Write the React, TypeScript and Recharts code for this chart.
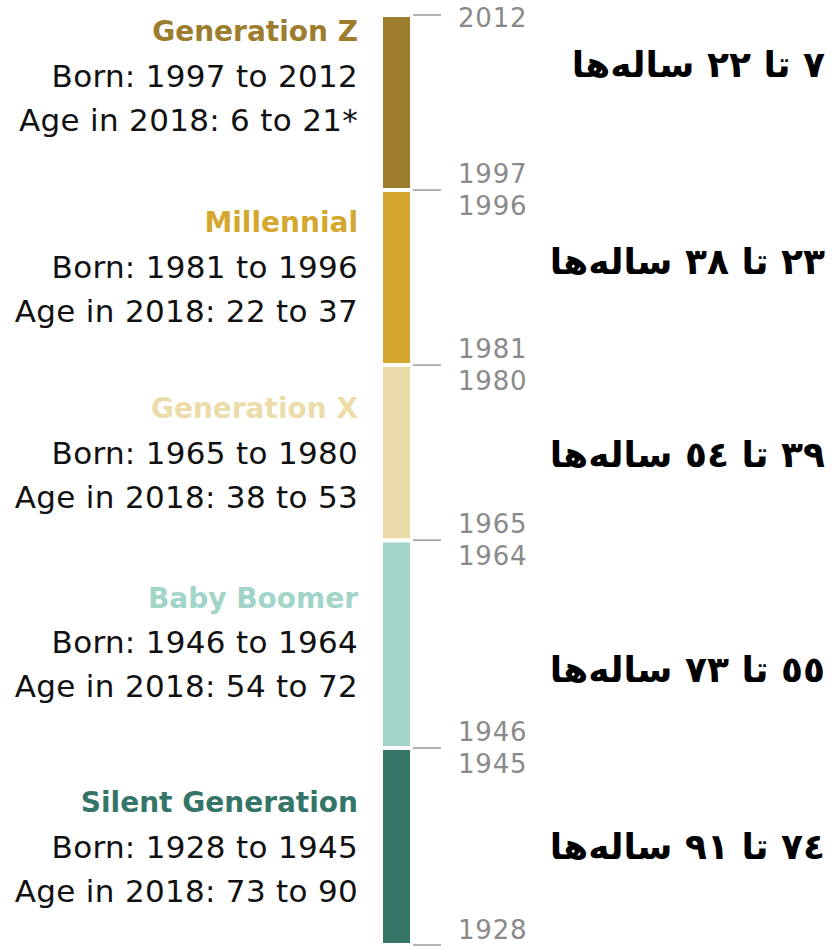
import { BarChart, Bar, XAxis, YAxis, LabelList } from 'recharts'

// ── Data (top of the column first) ────────────────────────────────────────────

const generations = ['Generation Z', 'Millennial', 'Generation X', 'Baby Boomer', 'Silent Generation']
const bornFirst = [1997, 1981, 1965, 1946, 1928]
const bornLast = [2012, 1996, 1980, 1964, 1945]
const ageFirst = [6, 22, 38, 54, 73]
const ageLast = [21, 37, 53, 72, 90]
const ageNote = ['*', '', '', '', '']
const persianAges = [
  '٧ تا ٢٢ ساله\u200cها',
  '٢٣ تا ٣٨ ساله\u200cها',
  '٣٩ تا ٥٤ ساله\u200cها',
  '٥٥ تا ٧٣ ساله\u200cها',
  '٧٤ تا ٩١ ساله\u200cها',
]

// ── Styles ────────────────────────────────────────────────────────────────────

const colors = ['#9c7c2d', '#d4a82e', '#ecdca9', '#a2d5c8', '#357567']
const FONT = '"DejaVu Sans", sans-serif'
// small hand nudges of the text blocks, as in the original layout
const leftNudge = [-27, -11, 0, -2, 0]
const rightNudge = [-38, -16, 2, 25, 0]

// ── Derived ───────────────────────────────────────────────────────────────────

const spans = bornFirst.map((f, i) => bornLast[i] - f + 1)
const row: Record<string, number | string> = { cohort: 'born' }
spans.forEach((s, i) => (row[`g${i}`] = s))
const data = [row]

// bottom-up index order for stacking
const stackOrder = generations.map((_, i) => generations.length - 1 - i)
const boundaries: number[] = [0]
stackOrder.forEach((i) => boundaries.push(boundaries[boundaries.length - 1] + spans[i]))
const total = boundaries[boundaries.length - 1]

// ── Year ticks ────────────────────────────────────────────────────────────────

function YearTick(props: any) {
  const { x, y, payload } = props
  const k = boundaries.indexOf(payload.value)
  const below = k > 0 ? stackOrder[k - 1] : -1
  const above = k < stackOrder.length ? stackOrder[k] : -1
  const txt = {
    fontFamily: FONT,
    fontSize: 26,
    letterSpacing: 0.8,
    fill: '#8a8a8a',
    dominantBaseline: 'central' as const,
  }
  const lx = x + 46
  return (
    <g>
      <line x1={x + 1} x2={x + 29} y1={y} y2={y} stroke="#9a9a9a" strokeWidth={1.5} />
      {below >= 0 && above >= 0 && (
        <>
          <text x={lx} y={y - 16} {...txt}>{bornFirst[above]}</text>
          <text x={lx} y={y + 16} {...txt}>{bornLast[below]}</text>
        </>
      )}
      {above < 0 && <text x={lx} y={y + 3} {...txt}>{bornLast[below]}</text>}
      {below < 0 && <text x={lx} y={y - 15} {...txt}>{bornFirst[above]}</text>}
    </g>
  )
}

// ── Segment labels ────────────────────────────────────────────────────────────

function box(props: any) {
  const vb = props.viewBox ?? props
  return { x: vb.x as number, y: vb.y as number, width: vb.width as number, height: vb.height as number }
}

const leftLabel = (i: number) => (props: any) => {
  const { x, y, height } = box(props)
  const cy = y + height / 2 + leftNudge[i]
  const tx = x - 23
  return (
    <g>
      <text x={tx} y={cy - 44} textAnchor="end" dominantBaseline="central"
        fontFamily={FONT} fontSize={28} fontWeight="bold" fill={colors[i]}>
        {generations[i]}
      </text>
      <text x={tx} y={cy} textAnchor="end" dominantBaseline="central"
        fontFamily={FONT} fontSize={31} letterSpacing={0.3} fill="#111">
        {`Born: ${bornFirst[i]} to ${bornLast[i]}`}
      </text>
      <text x={tx} y={cy + 44} textAnchor="end" dominantBaseline="central"
        fontFamily={FONT} fontSize={31} letterSpacing={0.3} fill="#111">
        {`Age in 2018: ${ageFirst[i]} to ${ageLast[i]}${ageNote[i]}`}
      </text>
    </g>
  )
}

const rightLabel = (i: number) => (props: any) => {
  const { y, height } = box(props)
  const cy = y + height / 2 + rightNudge[i]
  return (
    <text x={825} y={cy} direction="rtl" textAnchor="start" dominantBaseline="central"
      fontFamily={FONT} fontSize={36} fontWeight="bold" fill="#000">
      {persianAges[i]}
    </text>
  )
}

// ── App ───────────────────────────────────────────────────────────────────────

export default function App() {
  return (
    <div style={{ position: 'absolute', left: 0, top: 0, width: 836, height: 946, background: '#fff' }}>
      <BarChart
        width={836}
        height={946}
        data={data}
        margin={{ top: 15, right: 0, bottom: 1, left: 381 }}
        barCategoryGap={0}
      >
        <XAxis dataKey="cohort" hide />
        <YAxis
          type="number"
          orientation="right"
          domain={[0, total]}
          ticks={boundaries}
          interval={0}
          width={424}
          axisLine={false}
          tickLine={false}
          tickSize={0}
          tickMargin={0}
          tick={<YearTick />}
        />
        {stackOrder.map((i) => (
          <Bar
            key={i}
            dataKey={`g${i}`}
            stackId="gen"
            fill={colors[i]}
            stroke="#fff"
            strokeWidth={4}
            isAnimationActive={false}
          >
            <LabelList dataKey={`g${i}`} content={leftLabel(i)} />
            <LabelList dataKey={`g${i}`} content={rightLabel(i)} />
          </Bar>
        ))}
      </BarChart>
    </div>
  )
}
